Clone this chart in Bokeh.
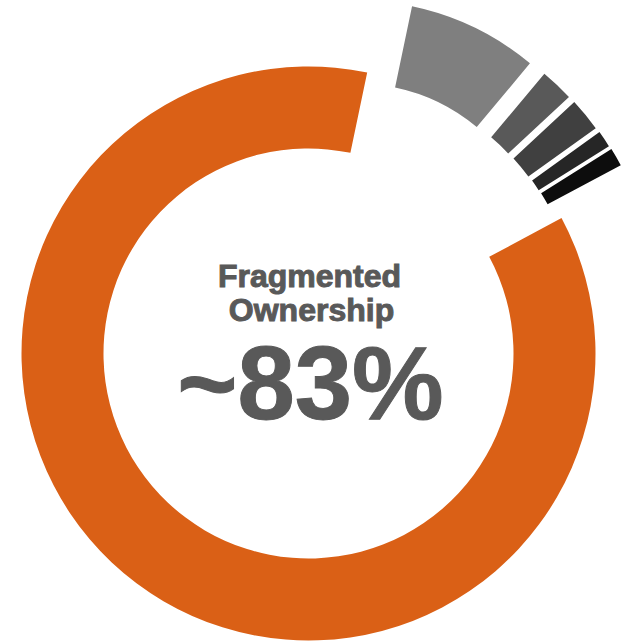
import math
from bokeh.plotting import figure
from bokeh.models import ColumnDataSource, Range1d
from bokeh.embed import file_html
from bokeh.resources import INLINE
from bokeh.core.properties import value

# ---- data ----
categories = ["Fragmented Ownership", "Holder 1", "Holder 2", "Holder 3", "Holder 4", "Holder 5"]
shares = [86.1, 7.8, 2.0, 2.0, 1.0, 1.1]
colors = ["#DA6016", "#7F7F7F", "#595959", "#404040", "#262626", "#0D0D0D"]
exploded = [False, True, True, True, True, True]
title_lines = ["Fragmented", "Ownership"]
headline = "~83%"

# ---- layout / style ----
W, H = 625, 641
CX, CY = 308, H - 353          # donut centre (data units == pixels)
R_OUT, R_IN = 287, 205         # main ring
R_OUT_X, R_IN_X = 270, 187     # exploded slices
EXPLODE = 96
SPREAD = 0.6
START_DEG = 11.8               # first slice starts here, clockwise from 12 o'clock
order = [1, 2, 3, 4, 5, 0]     # drawing order clockwise

total = float(sum(shares))
spans = {}
a = START_DEG
for i in order:
    s = shares[i] / total * 360.0
    spans[i] = (a, a + s)
    a += s

ex_idx = [i for i in order if exploded[i]]
grp_mid = (spans[ex_idx[0]][0] + spans[ex_idx[-1]][1]) / 2.0

xs, ys, r_in, r_out, sa, ea, cols = [], [], [], [], [], [], []
for i in order:
    t1, t2 = spans[i]
    if exploded[i]:
        bis = (t1 + t2) / 2.0
        d = grp_mid + SPREAD * (bis - grp_mid)
        dx = EXPLODE * math.sin(math.radians(d))
        dy = EXPLODE * math.cos(math.radians(d))
        ri, ro = R_IN_X, R_OUT_X
    else:
        dx = dy = 0.0
        ri, ro = R_IN, R_OUT
    xs.append(CX + dx)
    ys.append(CY + dy)
    r_in.append(ri)
    r_out.append(ro)
    sa.append(math.radians(90 - t1))
    ea.append(math.radians(90 - t2))
    cols.append(colors[i])

src = ColumnDataSource(dict(x=xs, y=ys, ri=r_in, ro=r_out, sa=sa, ea=ea, c=cols))

p = figure(width=W, height=H, x_range=Range1d(0, W), y_range=Range1d(0, H),
           output_backend="svg", toolbar_location=None, min_border=0)
p.axis.visible = False
p.grid.visible = False
p.outline_line_color = None
p.background_fill_color = "white"
p.border_fill_color = "white"

p.annular_wedge(x="x", y="y", inner_radius="ri", outer_radius="ro",
                start_angle="sa", end_angle="ea", direction="clock",
                fill_color="c", line_color=None, source=src)

font = value("Liberation Sans")
p.text(x=[309, 311], y=[H - 275, H - 309], text=title_lines,
       text_align="center", text_baseline="alphabetic", text_font=font,
       text_font_style="bold", text_font_size="32px", text_color="#595959",
       text_outline_color="#595959")
p.text(x=[310], y=[H - 383], text=[headline],
       text_align="center", text_baseline="alphabetic", text_font=font,
       text_font_style="bold", text_font_size="103px", text_color="#595959",
       text_outline_color="#595959")

open("out.html", "w").write(file_html(p, INLINE))
